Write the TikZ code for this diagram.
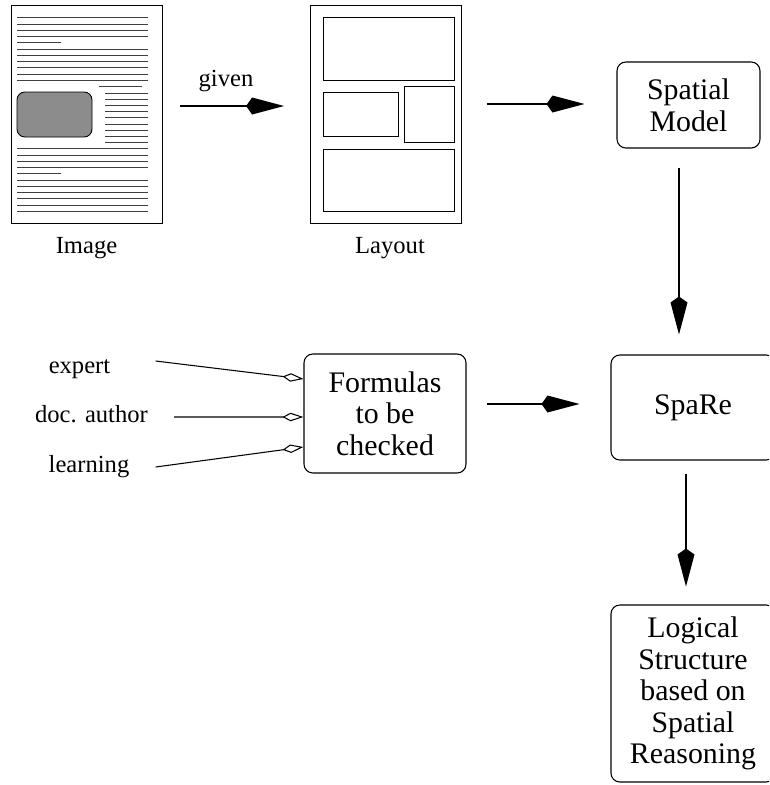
\documentclass[tikz,border=0pt]{standalone}
\usepackage{fontspec}
\setmainfont{Liberation Serif}
\usetikzlibrary{positioning, arrows.meta, calc}

\tikzset{
  box/.style={draw, line width=0.6pt, rounded corners=5pt, align=center, inner sep=0pt, font=\fontsize{17}{18}\selectfont},
  page/.style={draw, line width=0.5pt, inner sep=0pt, minimum width=3.02cm, minimum height=4.36cm},
  lbl/.style={font=\fontsize{14}{16}\selectfont, inner sep=0pt, anchor=base},
  txtline/.style={line width=0.4pt, black!75},
  arr/.style={line width=1.2pt, -{Kite[length=0.76cm, width=0.34cm, inset=0.12cm]}},
  oarr/.style={line width=0.6pt, -{Kite[open, length=0.42cm, width=0.17cm, inset=0.16cm]}},
}

\begin{document}
\begin{tikzpicture}[x=0.02cm, y=-0.02cm]
\useasboundingbox (0,0) rectangle (769,785);
\clip (0,0) rectangle (769,785);

\node[page] (imgpage) at (86.5,114) {};
\node[page] (laypage) at (386,114) {};

\foreach \y in {17,24,30,36,49,55,61,67,74,80,148,155,161,167,180,186,192,198,205,211}
  \draw[txtline] (17,\y) -- (148,\y);
\foreach \y in {42,173}
  \draw[txtline] (17,\y) -- (61,\y);
\draw[txtline] (99,86) -- (142,86);
\foreach \y in {93,99,105,111,117,124,130,136,142}
  \draw[txtline] (105,\y) -- (148,\y);
\draw[line width=0.5pt, rounded corners=4.5pt, fill=black!45] (17,92) rectangle (92,137);

\draw[line width=0.5pt] (323,17) rectangle (454,80);
\draw[line width=0.5pt] (323,92) rectangle (398,136);
\draw[line width=0.5pt] (404,86) rectangle (454,142);
\draw[line width=0.5pt] (323,149) rectangle (454,211);

\node[lbl] (imglbl) at (86.5,253) {Image};
\node[lbl] (laylbl) at (390,253) {Layout};
\node[lbl] (given) at (226,86) {given};

\node[box, minimum width=2.86cm, minimum height=1.72cm] (spatial) at (688.5,105) {Spatial\\Model};
\node[box, minimum width=3.28cm, minimum height=2.1cm] (spare) at (693,407.5) {SpaRe};
\node[box, minimum width=3.28cm, minimum height=3.54cm] (logical) at (693,693.5) {Logical\\Structure\\based on\\Spatial\\Reasoning};
\node[box, minimum width=3.24cm, minimum height=2.38cm] (formulas) at (385,413.5) {Formulas\\to be\\checked};

\node[lbl] (expert) at (79.5,373) {expert};
\node[lbl] (docauthor) at (91.5,422) {doc. author};
\node[lbl] (learning) at (89,472) {learning};

\draw[arr] ($(imgpage.east)+(18,-8)$) -- ($(laypage.west)+(-26,-8)$);
\draw[arr] ($(laypage.east)+(25,-10)$) -- ($(spatial.west)+(-32,-1)$);
\draw[arr] ($(spatial.south)+(-9.5,19)$) -- ($(spare.north)+(-14,-20)$);
\draw[arr] ($(formulas.east)+(20,-9.5)$) -- ($(spare.west)+(-31,-3.5)$);
\draw[arr] ($(spare.south)+(-7,13)$) -- ($(logical.north)+(-7,-18)$);

\draw[oarr] ($(expert.base east)+(45,-12)$) -- ($(formulas.west)+(0,-34.5)$);
\draw[oarr] ($(docauthor.base east)+(26,-5)$) -- ($(formulas.west)+(0,3.5)$);
\draw[oarr] ($(learning.base east)+(26,-5)$) -- ($(formulas.west)+(0,33.5)$);
\end{tikzpicture}
\end{document}
